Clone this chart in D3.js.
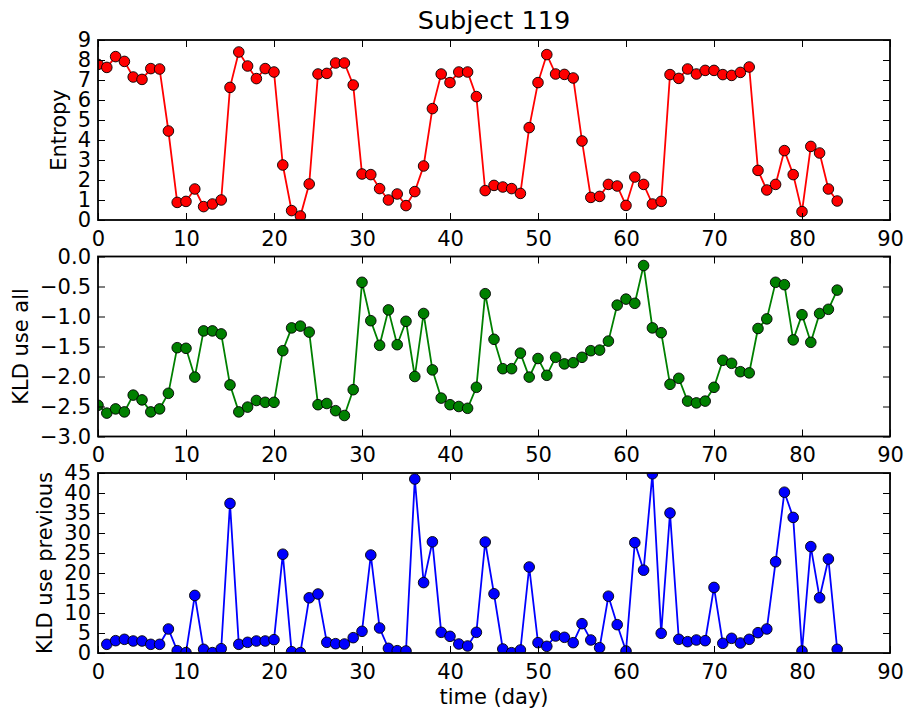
<!DOCTYPE html>
<html>
<head>
<meta charset="utf-8">
<script src="https://cdn.jsdelivr.net/npm/d3@7"></script>
<style>
  body { margin: 0; background: #fff; }
  text { font-family: "DejaVu Sans", sans-serif; fill: #000; }
</style>
</head>
<body>
<div id="chart"></div>
<script>
// values, one per day
var entropy = [
  7.78, 7.63, 8.17, 7.93, 7.15, 7.03, 7.57, 7.55, 4.45, 0.88,
  0.93, 1.55, 0.67, 0.80, 1.00, 6.63, 8.40, 7.70, 7.07, 7.57,
  7.40, 2.75, 0.47, 0.20, 1.80, 7.30, 7.33, 7.85, 7.85, 6.75,
  2.30, 2.27, 1.57, 1.00, 1.30, 0.72, 1.42, 2.70, 5.57, 7.30,
  6.87, 7.40, 7.40, 6.17, 1.47, 1.73, 1.65, 1.57, 1.33, 4.62,
  6.87, 8.27, 7.30, 7.28, 7.10, 3.95, 1.13, 1.18, 1.78, 1.70,
  0.73, 2.15, 1.78, 0.80, 0.93, 7.27, 7.08, 7.55, 7.30, 7.48,
  7.48, 7.27, 7.23, 7.38, 7.65, 2.48, 1.50, 1.78, 3.47, 2.27,
  0.42, 3.68, 3.35, 1.55, 0.95
];
var kldAll = [
  -2.48, -2.61, -2.54, -2.59, -2.31, -2.39, -2.59, -2.54, -2.28, -1.52,
  -1.53, -2.01, -1.24, -1.24, -1.29, -2.14, -2.59, -2.51, -2.40, -2.43,
  -2.43, -1.57, -1.19, -1.16, -1.26, -2.47, -2.45, -2.57, -2.65, -2.22,
  -0.43, -1.07, -1.48, -0.89, -1.47, -1.08, -2.00, -0.95, -1.89, -2.36,
  -2.47, -2.50, -2.53, -2.18, -0.62, -1.38, -1.87, -1.87, -1.61, -2.01,
  -1.70, -1.98, -1.68, -1.79, -1.77, -1.68, -1.57, -1.56, -1.41, -0.81,
  -0.71, -0.78, -0.15, -1.19, -1.27, -2.13, -2.03, -2.41, -2.44, -2.41,
  -2.18, -1.73, -1.78, -1.92, -1.94, -1.20, -1.04, -0.43, -0.47, -1.39,
  -0.97, -1.43, -0.95, -0.88, -0.56
];
// starts at day 1
var kldPrev = [
  2.17, 3.08, 3.42, 3.00, 3.00, 2.17, 2.17, 6.00, 0.58, 0.10,
  14.4, 0.92, 0.10, 1.08, 37.4, 2.17, 2.67, 3.00, 3.00, 3.33,
  24.7, 0.33, 0.10, 13.8, 14.75, 2.67, 2.33, 2.25, 3.83, 5.42,
  24.5, 6.25, 1.17, 0.58, 0.50, 43.5, 17.6, 27.8, 5.17, 4.17,
  2.25, 1.75, 5.17, 27.75, 14.8, 1.00, 0.08, 0.75, 21.5, 2.58,
  1.67, 4.25, 3.92, 2.58, 7.33, 3.25, 1.33, 14.2, 7.08, 0.50,
  27.6, 20.7, 44.8, 4.92, 35.0, 3.42, 2.83, 3.25, 3.08, 16.4,
  2.42, 3.67, 2.50, 3.42, 5.08, 6.00, 22.8, 40.2, 33.9, 0.50,
  26.6, 13.8, 23.5, 0.92
];

var xTicks = [0, 10, 20, 30, 40, 50, 60, 70, 80, 90];
var entropyTicks = [0, 1, 2, 3, 4, 5, 6, 7, 8, 9];
var kldAllTicks = [-3.0, -2.5, -2.0, -1.5, -1.0, -0.5, 0.0];
var kldPrevTicks = [0, 5, 10, 15, 20, 25, 30, 35, 40, 45];

var W = 909, H = 715;
var left = 98, plotW = 792, top0 = 40, plotH = 180, gap = 36.5;
var fs = 21;

var panels = [
  { label: "Entropy", values: entropy, start: 0, color: "#ff0000", domain: [0, 9], ticks: entropyTicks, fmt: d3.format("d") },
  { label: "KLD use all", values: kldAll, start: 0, color: "#008000", domain: [-3, 0], ticks: kldAllTicks, fmt: d3.format(".1f") },
  { label: "KLD use previous", values: kldPrev, start: 1, color: "#0000ff", domain: [0, 45], ticks: kldPrevTicks, fmt: d3.format("d") }
];

var svg = d3.select("#chart").append("svg")
    .attr("width", W)
    .attr("height", H);

var x = d3.scaleLinear().domain([0, 90]).range([0, plotW]);

panels.forEach(function (p, i) {
    var ty = top0 + i * (plotH + gap);
    var y = d3.scaleLinear().domain(p.domain).range([plotH, 0]);

    var g = svg.append("g").attr("transform", "translate(" + left + "," + ty + ")");

    g.append("clipPath").attr("id", "clip" + i)
      .append("rect").attr("width", plotW).attr("height", plotH);

    var pts = p.values.map(function (v, j) { return { day: j + p.start, v: v }; });

    var plot = g.append("g").attr("clip-path", "url(#clip" + i + ")");

    plot.append("path")
        .datum(pts)
        .attr("fill", "none")
        .attr("stroke", p.color)
        .attr("stroke-width", 1.8)
        .attr("d", d3.line().x(function (d) { return x(d.day); }).y(function (d) { return y(d.v); }));

    plot.selectAll("circle")
        .data(pts)
        .enter().append("circle")
        .attr("cx", function (d) { return x(d.day); })
        .attr("cy", function (d) { return y(d.v); })
        .attr("r", 5.3)
        .attr("fill", p.color)
        .attr("stroke", "#000")
        .attr("stroke-width", 0.9);

    // inward ticks on all four sides
    var bottom = g.append("g").attr("transform", "translate(0," + plotH + ")")
        .call(d3.axisBottom(x).tickValues(xTicks).tickSize(-7).tickPadding(11).tickFormat(d3.format("d")));
    g.append("g")
        .call(d3.axisTop(x).tickValues(xTicks).tickSize(-7).tickFormat(""));
    var leftAx = g.append("g")
        .call(d3.axisLeft(y).tickValues(p.ticks).tickSize(-7).tickPadding(7).tickFormat(p.fmt));
    g.append("g").attr("transform", "translate(" + plotW + ",0)")
        .call(d3.axisRight(y).tickValues(p.ticks).tickSize(-7).tickFormat(""));

    g.selectAll(".domain").remove();
    g.selectAll(".tick line").attr("stroke", "#000").attr("stroke-width", 1);
    g.selectAll(".tick text").attr("font-size", fs).attr("font-family", "DejaVu Sans");

    g.append("rect")
        .attr("width", plotW).attr("height", plotH)
        .attr("fill", "none").attr("stroke", "#000").attr("stroke-width", 1.8);

    // y label sits just left of the widest tick label
    var minX = d3.min(leftAx.selectAll(".tick text").nodes(), function (n) { return n.getBBox().x; });
    var lx = minX - 7 - 0.236 * fs;
    g.append("text")
        .attr("transform", "translate(" + lx + "," + (plotH / 2) + ") rotate(-90)")
        .attr("text-anchor", "middle")
        .attr("font-size", fs)
        .text(p.label);

    if (i === 0) {
        g.append("text")
            .attr("x", plotW / 2).attr("y", -10.7)
            .attr("text-anchor", "middle")
            .attr("font-size", 25.6)
            .text("Subject 119");
    }
    if (i === panels.length - 1) {
        g.append("text")
            .attr("x", plotW / 2).attr("y", plotH + 51)
            .attr("text-anchor", "middle")
            .attr("font-size", fs)
            .text("time (day)");
    }
});
</script>
</body>
</html>
